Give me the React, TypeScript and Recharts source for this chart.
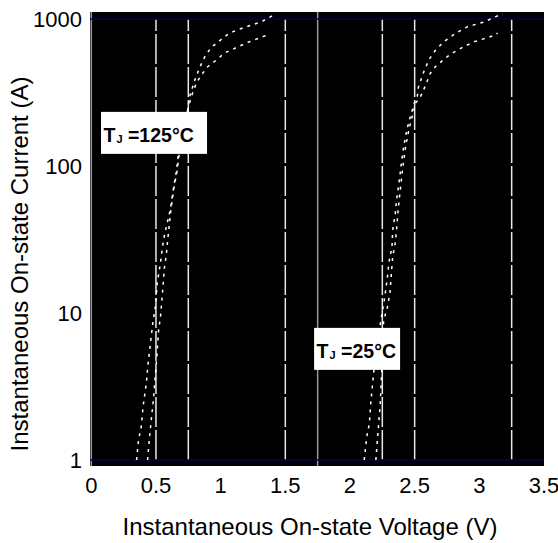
import React from 'react';
import { LineChart, Line, XAxis, YAxis, CartesianGrid, ReferenceLine, ReferenceDot, Label } from 'recharts';

const xTicks = [0, 0.5, 1, 1.5, 2, 2.5, 3, 3.5];
const yTicks = [1, 10, 100, 1000];
const dashedGridX = [0.5, 0.75, 1.5, 2.25, 2.5, 3.25];
const solidGridX = [0, 1.75];

// TJ = 125°C, curve A
const v125a = [0.35, 0.365, 0.386, 0.4, 0.425, 0.44, 0.457, 0.475, 0.495, 0.51, 0.535, 0.55, 0.566, 0.61, 0.637, 0.66, 0.673, 0.745, 0.76, 0.8, 0.84, 0.877, 0.93, 0.967, 1.03, 1.07, 1.16, 1.28, 1.33, 1.41];
const i125a = [1, 1.37, 1.67, 2.3, 3.3, 4.6, 6.2, 8.5, 11, 16, 22, 28, 34, 50, 72, 94, 122, 240, 296, 384, 472, 553, 648, 680, 758, 803, 862, 935, 973, 1065];
// TJ = 125°C, curve B
const v125b = [0.435, 0.45, 0.466, 0.48, 0.505, 0.52, 0.535, 0.55, 0.566, 0.58, 0.59, 0.615, 0.64, 0.665, 0.68, 0.745, 0.773, 0.812, 0.851, 0.9, 0.967, 1.03, 1.11, 1.2, 1.355, 1.38];
const i125b = [1, 1.43, 1.96, 2.56, 4.8, 7.6, 9.4, 13.6, 20.6, 24.8, 31, 50, 72, 94, 122, 240, 296, 366, 416, 474, 526, 587, 632, 688, 775, 790];
// TJ = 25°C, curve A
const v25a = [2.11, 2.13, 2.15, 2.16, 2.18, 2.2, 2.24, 2.27, 2.29, 2.3, 2.325, 2.33, 2.35, 2.36, 2.385, 2.4, 2.415, 2.435, 2.455, 2.505, 2.52, 2.53, 2.57, 2.61, 2.66, 2.725, 2.82, 2.91, 3.04, 3.1, 3.18];
const i25a = [1, 1.44, 1.78, 2.4, 3.7, 5.5, 9, 13, 17.7, 21.8, 28.3, 36.6, 47.6, 58.6, 84.5, 109, 135, 167, 200, 281, 296, 347, 436, 528, 612, 700, 803, 888, 955, 1014, 1086];
// TJ = 25°C, curve B
const v25b = [2.2, 2.21, 2.22, 2.235, 2.24, 2.25, 2.26, 2.29, 2.31, 2.32, 2.33, 2.35, 2.36, 2.37, 2.38, 2.4, 2.415, 2.43, 2.45, 2.47, 2.51, 2.545, 2.58, 2.62, 2.66, 2.74, 2.79, 2.88, 2.96, 3.13, 3.14];
const i25b = [1, 1.3, 1.68, 2.5, 3.15, 5, 8.9, 11, 14, 18.6, 24, 30, 36.6, 47.6, 58.6, 84.5, 109, 135, 167, 200, 270, 296, 347, 426, 474, 544, 585, 648, 700, 780, 803];

const toPts = (v: number[], i: number[]) => v.map((x, k) => ({ v: x, i: i[k] }));
const series = [toPts(v125a, i125a), toPts(v125b, i125b), toPts(v25a, i25a), toPts(v25b, i25b)];

const FONT = "'Liberation Sans', Arial, sans-serif";

const tempLabel = (w: number, temp: string) => (props: any) => {
  const { cx, cy } = props;
  const h = 42;
  return (
    <g>
      <rect x={cx - w / 2} y={cy - h / 2} width={w} height={h} fill="#fff" />
      <text x={cx - w / 2 + 2.5} y={cy + 9} fontFamily={FONT} fontWeight="bold" fontSize={19.5} fill="#000">
        T<tspan fontSize={11} dy={1} dx={1}>J</tspan>
        <tspan dy={-1}>{` =${temp}°C`}</tspan>
      </text>
    </g>
  );
};

export default function App() {
  return (
    <div style={{ position: 'absolute', left: 0, top: 0, background: '#fff' }}>
      <LineChart width={558} height={543} margin={{ top: 12, right: 14, bottom: 0, left: 0 }}>
        <CartesianGrid fill="#000" horizontal={false} vertical={false} stroke="none" />
        <XAxis
          type="number"
          dataKey="v"
          domain={[-0.01, 3.5]}
          ticks={xTicks}
          allowDataOverflow
          height={77}
          axisLine={false}
          tickLine={false}
          tickMargin={5}
          tick={{ fontSize: 22, fill: '#000', fontFamily: FONT }}
        >
          <Label
            content={() => (
              <text x={310} y={535} textAnchor="middle" fontSize={24} fontFamily={FONT} fill="#000">
                Instantaneous On-state Voltage (V)
              </text>
            )}
          />
        </XAxis>
        <YAxis
          type="number"
          dataKey="i"
          scale="log"
          domain={[0.91, 1116]}
          ticks={yTicks}
          allowDataOverflow
          width={90}
          axisLine={false}
          tickLine={false}
          tick={{ fontSize: 22, fill: '#000', fontFamily: FONT }}
        >
          <Label
            content={() => (
              <text
                x={19}
                y={264}
                transform="rotate(-90 19 264)"
                textAnchor="middle"
                dominantBaseline="central"
                fontSize={24}
                fontFamily={FONT}
                fill="#000"
              >
                Instantaneous On-state Current (A)
              </text>
            )}
          />
        </YAxis>
        {solidGridX.map((x) => (
          <ReferenceLine key={'s' + x} x={x} stroke="#9a9a9a" strokeWidth={1.5} />
        ))}
        {dashedGridX.map((x) => (
          <ReferenceLine
            key={'d' + x}
            segment={[{ x, y: 1 }, { x, y: 1000 }]}
            stroke="#e8e8e8"
            strokeWidth={1.5}
            strokeDasharray="30 3"
          />
        ))}
        <ReferenceLine y={1000} stroke="#00005a" strokeWidth={1.5} />
        <ReferenceLine y={1} stroke="#00005a" strokeWidth={1.5} />
        {series.map((d, k) => (
          <Line
            key={k}
            data={d}
            dataKey="i"
            type="linear"
            stroke="#ffffff"
            strokeWidth={1.5}
            strokeDasharray="3 5"
            dot={false}
            isAnimationActive={false}
          />
        ))}
        <ReferenceDot x={0.485} y={168} r={0} ifOverflow="visible" shape={tempLabel(106, '125')} />
        <ReferenceDot x={2.055} y={5.7} r={0} ifOverflow="visible" shape={tempLabel(86, '25')} />
      </LineChart>
    </div>
  );
}
